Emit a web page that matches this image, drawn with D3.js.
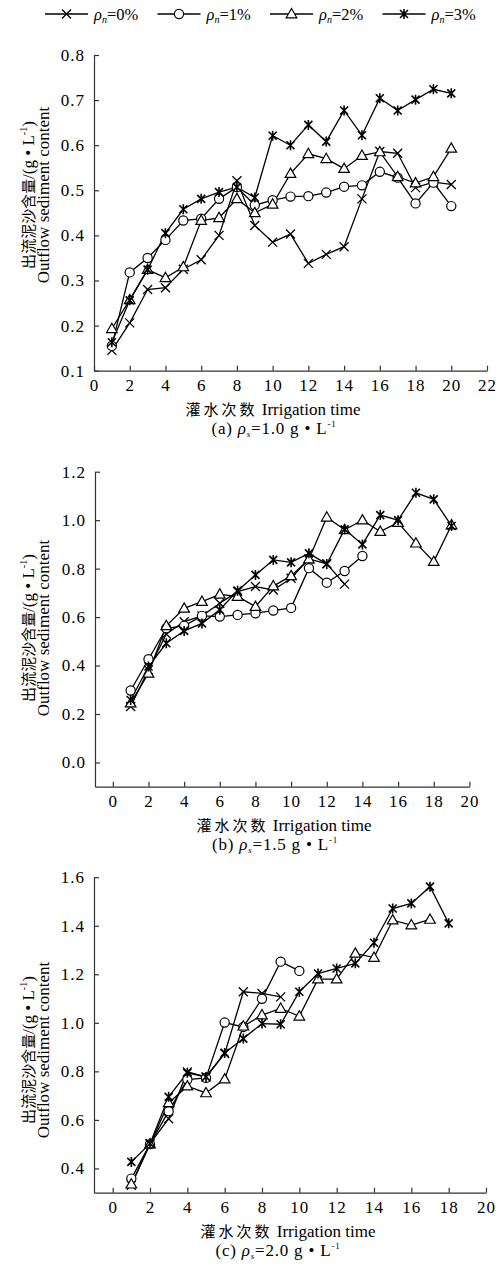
<!DOCTYPE html>
<html lang="zh">
<head>
<meta charset="UTF-8" />
<title>出流泥沙含量</title>
<script src="https://d3js.org/d3.v7.min.js"></script>
<style>
  body { margin: 0; background: #fff; }
  svg text { font-family: "Liberation Serif", "Noto Sans CJK SC", serif; fill: #000; }
</style>
</head>
<body>
<script>
// 灌水次数 (x) and the four ρn series for each ρs
var seriesNames = ["0%", "1%", "2%", "3%"];
var markerTypes = ["cross", "circle", "triangle", "star"];

// (a) ρs = 1.0 g/L
var a0 = [0.145,0.206,0.280,0.284,0.325,0.346,0.400,0.521,0.422,0.385,0.403,0.338,0.358,0.375,0.481,0.586,0.582,0.506,0.518,0.513];
var a1 = [0.155,0.318,0.350,0.390,0.433,0.437,0.481,0.507,0.467,0.478,0.486,0.487,0.495,0.508,0.511,0.541,0.528,0.471,0.517,0.465];
var a2 = [0.193,0.257,0.324,0.306,0.330,0.433,0.439,0.481,0.450,0.469,0.537,0.581,0.570,0.548,0.577,0.585,0.530,0.516,0.530,0.593];
var a3 = [0.163,0.256,0.324,0.405,0.458,0.481,0.496,0.507,0.484,0.621,0.600,0.645,0.608,0.677,0.622,0.704,0.677,0.701,0.724,0.715];

// (b) ρs = 1.5 g/L
var b0 = [0.231,0.382,0.530,0.581,0.605,0.657,0.705,0.726,0.712,0.760,0.840,0.820,0.736];
var b1 = [0.297,0.426,0.554,0.564,0.605,0.602,0.609,0.616,0.627,0.638,0.802,0.742,0.790,0.852];
var b2 = [0.245,0.368,0.564,0.636,0.664,0.694,0.685,0.643,0.728,0.770,0.839,1.012,0.960,1.000,0.953,0.990,0.905,0.829,0.980];
var b3 = [0.258,0.396,0.492,0.543,0.574,0.630,0.709,0.774,0.836,0.826,0.863,0.819,0.962,0.900,1.021,1.000,1.113,1.086,0.976];

// (c) ρs = 2.0 g/L
var c0 = [0.331,0.502,0.605,0.798,0.777,0.873,1.128,1.121,1.107];
var c1 = [0.358,0.500,0.636,0.766,0.773,1.001,0.983,1.099,1.252,1.214];
var c2 = [0.335,0.500,0.670,0.739,0.711,0.768,0.986,1.032,1.059,1.027,1.180,1.180,1.286,1.269,1.423,1.403,1.426];
var c3 = [0.427,0.502,0.695,0.794,0.777,0.876,0.935,0.997,0.994,1.128,1.203,1.224,1.245,1.330,1.471,1.492,1.561,1.410];

var xTicksA = [0,2,4,6,8,10,12,14,16,18,20,22];
var xTicksBC = [0,2,4,6,8,10,12,14,16,18,20];
var yTicksA = [0.1,0.2,0.3,0.4,0.5,0.6,0.7,0.8];
var yTicksB = [0.0,0.2,0.4,0.6,0.8,1.0,1.2];
var yTicksC = [0.4,0.6,0.8,1.0,1.2,1.4,1.6];

var panels = [
  {tag:"(a)", rho:"1.0", data:[a0,a1,a2,a3], xDomain:[0,22], xTicks:xTicksA, yDomain:[0.1,0.8], yTicks:yTicksA,
   left:94, right:487, top:55, bottom:370.7, titleX:273, subX:274, ylabY:195},
  {tag:"(b)", rho:"1.5", data:[b0,b1,b2,b3], xDomain:[-1,20], xTicks:xTicksBC, yDomain:[-0.1,1.2], yTicks:yTicksB,
   left:95, right:469.4, top:471.7, bottom:786.7, titleX:284, subX:275, ylabY:628},
  {tag:"(c)", rho:"2.0", data:[c0,c1,c2,c3], xDomain:[-1,20], xTicks:xTicksBC, yDomain:[0.3,1.6], yTicks:yTicksC,
   left:94, right:486, top:877.2, bottom:1192.7, titleX:288, subX:278, ylabY:1050}
];

var svg = d3.select("body").append("svg").attr("width", 499).attr("height", 1270);

function drawMarker(sel, type) {
  if (type === "circle") {
    sel.append("circle").attr("r", 4.6).attr("fill", "#fff").attr("stroke", "#000").attr("stroke-width", 1.2);
  } else if (type === "triangle") {
    sel.append("path").attr("d", "M0,-5.5L5.3,3.8L-5.3,3.8Z").attr("fill", "#fff").attr("stroke", "#000").attr("stroke-width", 1.2);
  } else if (type === "cross") {
    sel.append("path").attr("d", "M-4.5,-4.5L4.5,4.5M-4.5,4.5L4.5,-4.5").attr("stroke", "#000").attr("stroke-width", 1.3);
  } else {
    sel.append("path").attr("d", "M-4,-4L4,4M-4,4L4,-4M0,-5L0,5").attr("stroke", "#000").attr("stroke-width", 1.6);
  }
}

// legend
var leg = svg.append("g");
seriesNames.forEach(function(name, i) {
  var x0 = 45 + i * 112.5;
  leg.append("line").attr("x1", x0).attr("x2", x0 + 43).attr("y1", 14).attr("y2", 14)
    .attr("stroke", "#000").attr("stroke-width", 1.3);
  drawMarker(leg.append("g").attr("transform", "translate(" + (x0 + 21.5) + ",14)"), markerTypes[i]);
  var t = leg.append("text").attr("x", x0 + 49).attr("y", 19.5).attr("font-size", 16.5);
  t.append("tspan").attr("font-style", "italic").text("ρ");
  t.append("tspan").attr("font-style", "italic").attr("font-size", 10).attr("dy", 3).text("n");
  t.append("tspan").attr("dy", -3).text("=" + name);
});

panels.forEach(function(p) {
  var x = d3.scaleLinear().domain(p.xDomain).range([p.left, p.right]);
  var y = d3.scaleLinear().domain(p.yDomain).range([p.bottom, p.top]);
  var g = svg.append("g");

  var xa = g.append("g").attr("transform", "translate(0," + p.bottom + ")")
    .call(d3.axisBottom(x).tickValues(p.xTicks).tickSizeInner(-5).tickSizeOuter(0).tickPadding(8).tickFormat(d3.format("d")));
  var ya = g.append("g").attr("transform", "translate(" + p.left + ",0)")
    .call(d3.axisLeft(y).tickValues(p.yTicks).tickSizeInner(-5).tickSizeOuter(0).tickPadding(9).tickFormat(d3.format(".1f")));
  [xa, ya].forEach(function(a) {
    a.attr("font-family", null).attr("font-size", null);
    a.selectAll("path,line").attr("stroke", "#333").attr("stroke-width", 1.2);
    a.selectAll("text").attr("font-size", 17).attr("letter-spacing", 1);
  });

  var line = d3.line().x(function(d, i) { return x(i + 1); }).y(function(d) { return y(d); });
  p.data.forEach(function(vals) {
    g.append("path").datum(vals).attr("d", line).attr("fill", "none").attr("stroke", "#000").attr("stroke-width", 1.3);
  });
  p.data.forEach(function(vals, k) {
    g.selectAll(null).data(vals).enter().append("g")
      .attr("transform", function(d, i) { return "translate(" + x(i + 1) + "," + y(d) + ")"; })
      .each(function() { drawMarker(d3.select(this), markerTypes[k]); });
  });

  // y axis title, two lines
  var yl = g.append("g").attr("transform", "translate(0," + p.ylabY + ") rotate(-90)");
  var l1 = yl.append("text").attr("x", 0).attr("y", 34).attr("text-anchor", "middle").attr("font-size", 17);
  l1.append("tspan").attr("font-size", 15).text("出流泥沙含量");
  l1.append("tspan").text("/(g • L");
  l1.append("tspan").attr("font-size", 10).attr("dy", -7).text("-1");
  l1.append("tspan").attr("dy", 7).text(")");
  yl.append("text").attr("x", 0).attr("y", 49).attr("text-anchor", "middle").attr("font-size", 17)
    .text("Outflow sediment content");

  // x axis title
  var xt = g.append("text").attr("x", p.titleX).attr("y", p.bottom + 44).attr("text-anchor", "middle").attr("font-size", 17);
  xt.append("tspan").attr("font-size", 15).attr("letter-spacing", 3).text("灌水次数");
  xt.append("tspan").text(" Irrigation time");

  // panel caption
  var st = g.append("text").attr("x", p.subX).attr("y", p.bottom + 63).attr("text-anchor", "middle")
    .attr("font-size", 17).attr("letter-spacing", 0.8);
  st.append("tspan").text(p.tag + "  ");
  st.append("tspan").attr("font-style", "italic").text("ρ");
  st.append("tspan").attr("font-style", "italic").attr("font-size", 9).attr("dy", 3).text("s");
  st.append("tspan").attr("dy", -3).text("=" + p.rho + " g • L");
  st.append("tspan").attr("font-size", 9).attr("dy", -7).text("-1");
});
</script>
</body>
</html>
